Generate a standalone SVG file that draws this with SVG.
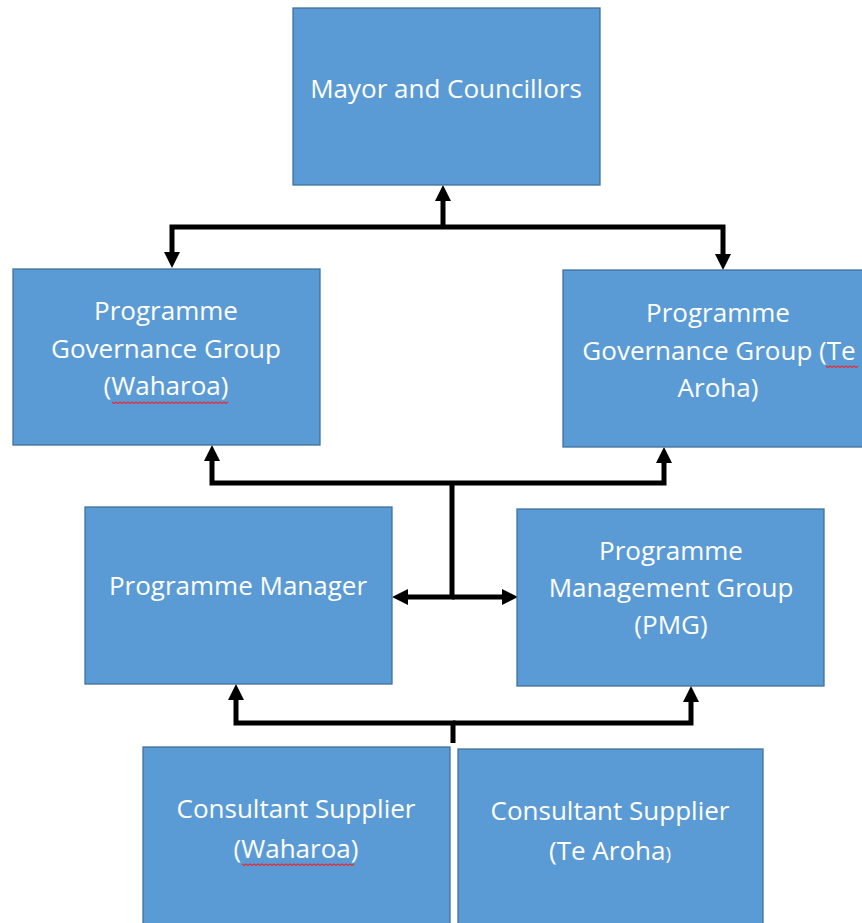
<svg xmlns="http://www.w3.org/2000/svg" width="862" height="923" viewBox="0 0 862 923">
<style>
.box{fill:#5B9BD5;stroke:#41719C;stroke-width:1.3}
.t{font-family:"Open Sans","Liberation Sans",sans-serif;font-size:26px;fill:#FFFFFF;text-anchor:middle}
.c{fill:none;stroke:#000;stroke-width:5;stroke-linejoin:miter;marker-end:url(#ah)}
.sq{fill:none;stroke:#E0303A;stroke-width:1.2}
</style>
<defs>
<marker id="ah" markerUnits="userSpaceOnUse" markerWidth="16" markerHeight="16" viewBox="0 0 16 16" refX="3" refY="8" orient="auto">
<path d="M0,0 L16,8 L0,16 z" fill="#000"/>
</marker>
</defs>
<rect width="862" height="923" fill="#FFFFFF"/>
<g id="connectors">
<path class="c" d="M443,227 V198"/>
<path class="c" d="M443,227 H172 V255"/>
<path class="c" d="M443,227 H723 V257"/>
<path class="c" d="M452,483 H212 V458"/>
<path class="c" d="M452,483 H664 V460"/>
<path class="c" d="M452,483 V597 H405"/>
<path class="c" d="M452,597 H505"/>
<path class="c" d="M453,743 V723 H236 V697"/>
<path class="c" d="M453,723 H691 V699"/>
</g>
<g id="mayor">
<rect class="box" x="293" y="8" width="307" height="177"/>
<text class="t" x="446" y="98">Mayor and Councillors</text>
</g>
<g id="pgg-waharoa">
<rect class="box" x="13" y="269" width="307" height="176"/>
<text class="t" x="166" y="320">Programme</text>
<text class="t" x="166" y="358">Governance Group</text>
<text class="t" x="166" y="395">(Waharoa)</text>
<path class="sq" d="M112,402 l2,1.5 l2,-1.5 l2,1.5 l2,-1.5 l2,1.5 l2,-1.5 l2,1.5 l2,-1.5 l2,1.5 l2,-1.5 l2,1.5 l2,-1.5 l2,1.5 l2,-1.5 l2,1.5 l2,-1.5 l2,1.5 l2,-1.5 l2,1.5 l2,-1.5 l2,1.5 l2,-1.5 l2,1.5 l2,-1.5 l2,1.5 l2,-1.5 l2,1.5 l2,-1.5 l2,1.5 l2,-1.5 l2,1.5 l2,-1.5 l2,1.5 l2,-1.5 l2,1.5 l2,-1.5 l2,1.5 l2,-1.5 l2,1.5 l2,-1.5 l2,1.5 l2,-1.5 l2,1.5 l2,-1.5 l2,1.5 l2,-1.5 l2,1.5 l2,-1.5 l2,1.5 l2,-1.5 l2,1.5 l2,-1.5 l2,1.5 l2,-1.5 l2,1.5 l2,-1.5 l2,1.5 l2,-1.5"/>
</g>
<g id="pgg-tearoha">
<rect class="box" x="563" y="270" width="310" height="177"/>
<text class="t" x="718" y="322">Programme</text>
<text class="t" x="719" y="360">Governance Group (Te</text>
<text class="t" x="718" y="397">Aroha)</text>
<path class="sq" d="M826,366 l2,1.5 l2,-1.5 l2,1.5 l2,-1.5 l2,1.5 l2,-1.5 l2,1.5 l2,-1.5 l2,1.5 l2,-1.5 l2,1.5 l2,-1.5 l2,1.5 l2,-1.5 l2,1.5 l2,-1.5"/>
</g>
<g id="programme-manager">
<rect class="box" x="85" y="507" width="307" height="177"/>
<text class="t" x="238" y="595">Programme Manager</text>
</g>
<g id="pmg">
<rect class="box" x="517" y="509" width="307" height="177"/>
<text class="t" x="671" y="560">Programme</text>
<text class="t" x="671" y="597">Management Group</text>
<text class="t" x="671" y="634">(PMG)</text>
</g>
<g id="consultant-waharoa">
<rect class="box" x="143" y="747" width="307" height="190"/>
<text class="t" x="296" y="818">Consultant Supplier</text>
<text class="t" x="296" y="858">(Waharoa)</text>
<path class="sq" d="M242,864 l2,1.5 l2,-1.5 l2,1.5 l2,-1.5 l2,1.5 l2,-1.5 l2,1.5 l2,-1.5 l2,1.5 l2,-1.5 l2,1.5 l2,-1.5 l2,1.5 l2,-1.5 l2,1.5 l2,-1.5 l2,1.5 l2,-1.5 l2,1.5 l2,-1.5 l2,1.5 l2,-1.5 l2,1.5 l2,-1.5 l2,1.5 l2,-1.5 l2,1.5 l2,-1.5 l2,1.5 l2,-1.5 l2,1.5 l2,-1.5 l2,1.5 l2,-1.5 l2,1.5 l2,-1.5 l2,1.5 l2,-1.5 l2,1.5 l2,-1.5 l2,1.5 l2,-1.5 l2,1.5 l2,-1.5 l2,1.5 l2,-1.5 l2,1.5 l2,-1.5 l2,1.5 l2,-1.5 l2,1.5 l2,-1.5 l2,1.5 l2,-1.5 l2,1.5 l2,-1.5"/>
</g>
<g id="consultant-tearoha">
<rect class="box" x="458" y="749" width="305" height="190"/>
<text class="t" x="610" y="820">Consultant Supplier</text>
<text class="t" x="610" y="860">(Te Aroha<tspan font-size="19">)</tspan></text>
</g>
</svg>
